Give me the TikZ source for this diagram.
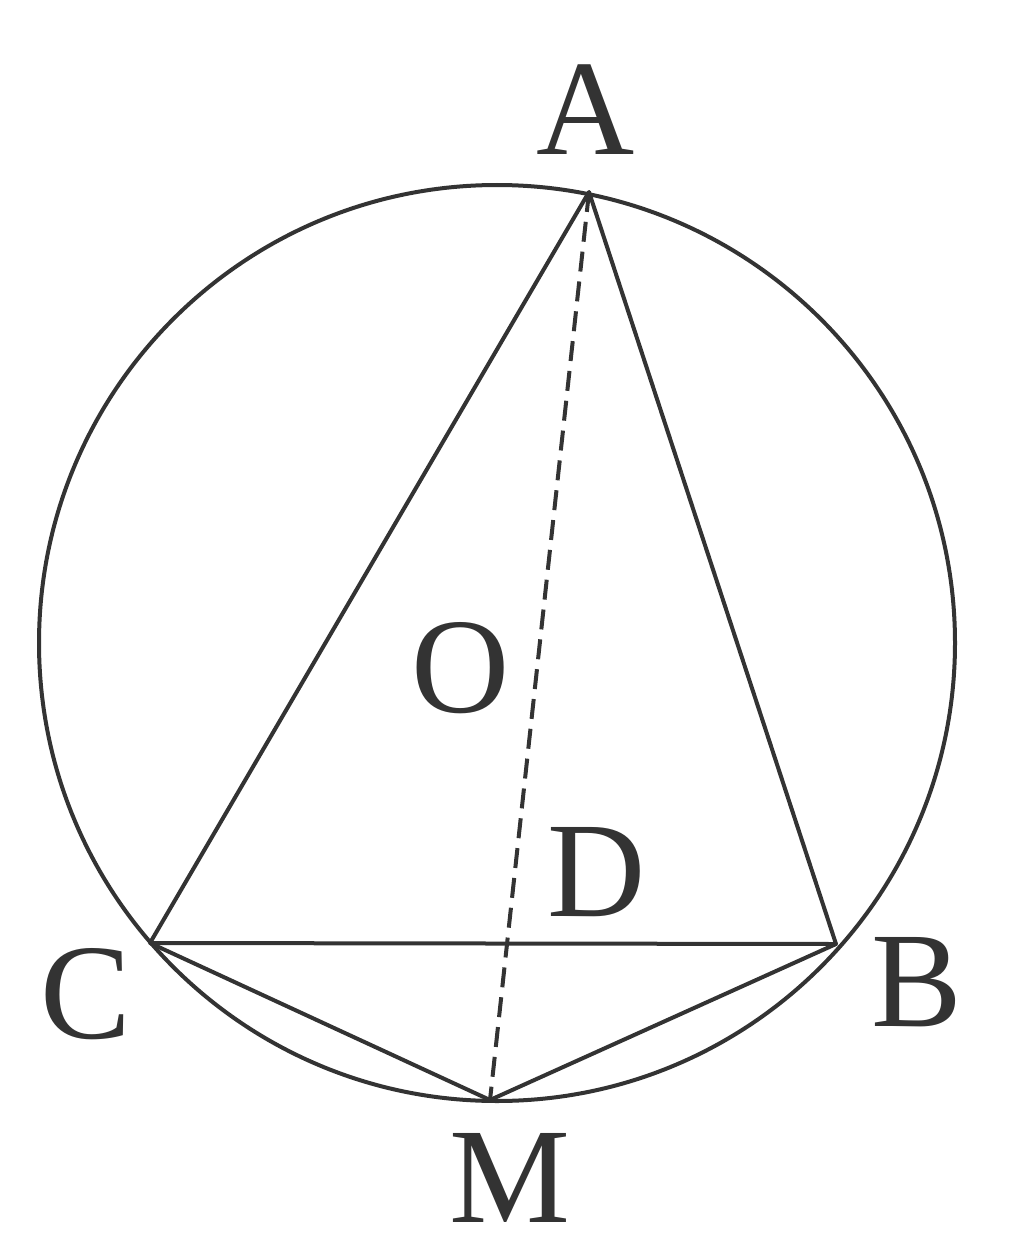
\documentclass[tikz,border=0pt]{standalone}
\usepackage{fontspec}
\setmainfont{Liberation Serif}
\begin{document}
\begin{tikzpicture}[x=0.5pt,y=-0.5pt,
  geo/.style={line width=2pt, draw=black!80, line join=round},
  dashline/.style={line width=2pt, draw=black!80, dash pattern=on 10pt off 5pt},
  lbl/.style={inner sep=0pt, text=black!80, font=\fontsize{68}{80}\selectfont}]
\useasboundingbox (0,0) rectangle (1024,1241);
\coordinate (O) at (497,643);
\coordinate (A) at (589,192);
\coordinate (C) at (150,943);
\coordinate (B) at (836,944);
\coordinate (M) at (490,1100);
\coordinate (D) at (intersection of A--M and C--B);
\draw[geo] (O) circle[radius=229pt];
\draw[geo] (A) -- (C) -- (B) -- cycle;
\draw[geo] (C) -- (M) -- (B);
\draw[dashline] (A) -- (M);
\node[lbl] (lA) at (586,110) {A};
\node[lbl] (lO) at (461,668) {O};
\node[lbl] (lD) at (597,872) {D};
\node[lbl] (lC) at (86,994) {C};
\node[lbl] (lB) at (917,982) {B};
\node[lbl] (lM) at (510,1178) {M};
\end{tikzpicture}
\end{document}
